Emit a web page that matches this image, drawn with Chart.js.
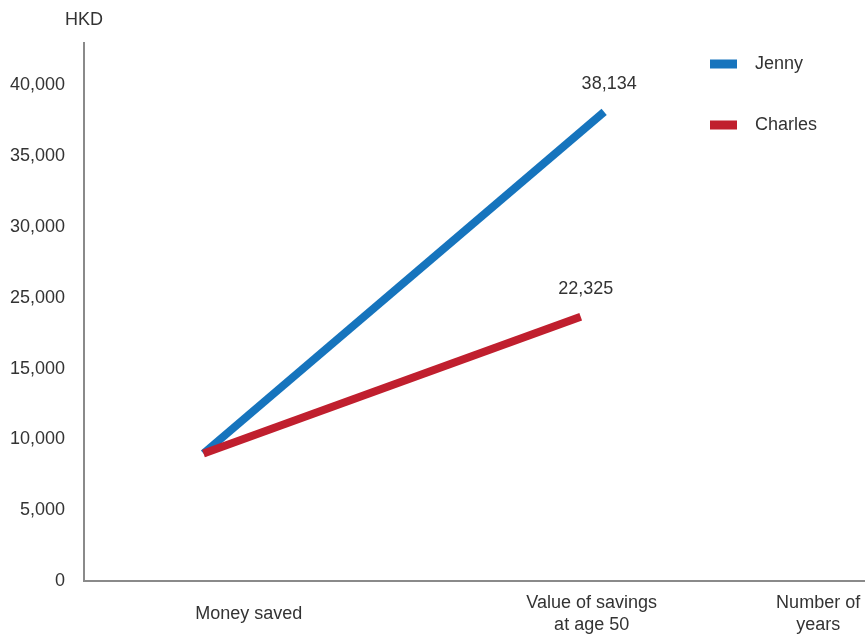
<!DOCTYPE html>
<html>
<head>
<meta charset="utf-8">
<title>Savings comparison</title>
<script src="https://cdn.jsdelivr.net/npm/chart.js@4/dist/chart.umd.min.js"></script>
<style>
  html, body { margin: 0; padding: 0; background: #ffffff; }
  #wrap { position: relative; width: 865px; height: 635px; }
  canvas { display: block; }
</style>
</head>
<body>
<div id="wrap"><canvas id="chart" width="865" height="635"></canvas></div>
<script>
// ---- data ----
const seriesNames = ['Jenny', 'Charles'];
const seriesColors = ['#1674bd', '#c01f2e'];

// horizontal progress (0 = axis origin, 100 = right end of the axis)
const jennyX = [15.3, 66.6];
const charlesX = [15.3, 63.6];
const jennyValues = [9000, 38134];
const charlesValues = [9000, 22325];

// x axis category labels and where they sit along the axis
const xLabels = ['Money saved', ['Value of savings', 'at age 50'], ['Number of', 'years']];
const xLabelAt = [21.1, 65.0, 94.0];

// y axis ticks as printed (evenly spaced, 20,000 is not printed)
const yTickValues = [0, 5000, 10000, 15000, 25000, 30000, 35000, 40000];
const yTickLabels = ['0', '5,000', '10,000', '15,000', '25,000', '30,000', '35,000', '40,000'];
const yAxisTop = 43000;
const yUnit = 'HKD';

// ---- value <-> tick position along the stepped axis ----
function valueToIndex(v) {
  const t = yTickValues;
  const n = t.length;
  if (v <= t[0]) return (v - t[0]) / (t[1] - t[0]);
  for (let i = 0; i < n - 1; i++) {
    if (v <= t[i + 1]) return i + (v - t[i]) / (t[i + 1] - t[i]);
  }
  return (n - 1) + (v - t[n - 1]) / (t[n - 1] - t[n - 2]);
}
function indexToValue(x) {
  const t = yTickValues;
  const n = t.length;
  if (x <= 0) return t[0] + x * (t[1] - t[0]);
  if (x >= n - 1) return t[n - 1] + (x - (n - 1)) * (t[n - 1] - t[n - 2]);
  const i = Math.floor(x);
  return t[i] + (x - i) * (t[i + 1] - t[i]);
}

// Linear scale whose printed ticks are evenly spaced but step by uneven amounts
class SteppedLinearScale extends Chart.LinearScale {
  determineDataLimits() {
    this.min = 0;
    this.max = valueToIndex(this.options.max);
  }
  buildTicks() {
    return yTickValues.map(v => ({ value: v }));
  }
  getPixelForValue(value) {
    if (value === null || value === undefined) return NaN;
    return super.getPixelForValue(valueToIndex(value));
  }
  getValueForPixel(pixel) {
    return indexToValue(super.getValueForPixel(pixel));
  }
}
SteppedLinearScale.id = 'steppedLinear';
SteppedLinearScale.defaults = {};
Chart.register(SteppedLinearScale);

const textColor = '#333333';
const fontSize = 18;
const fontFamily = "'Liberation Sans', Arial, Helvetica, sans-serif";
Chart.defaults.font.family = fontFamily;
Chart.defaults.font.size = fontSize;
Chart.defaults.color = textColor;

function toPoints(xs, ys) {
  return xs.map((x, i) => ({ x: x, y: ys[i] }));
}

// unit caption above the y axis, end-value labels and the legend
const annotations = {
  id: 'annotations',
  afterDatasetsDraw(chart) {
    const ctx = chart.ctx;
    const area = chart.chartArea;
    ctx.save();
    ctx.font = fontSize + 'px ' + fontFamily;
    ctx.fillStyle = textColor;
    ctx.textBaseline = 'middle';

    // unit
    ctx.textAlign = 'center';
    ctx.fillText(yUnit, area.left, 20);

    // value at the end of each line
    chart.data.datasets.forEach((ds, i) => {
      const meta = chart.getDatasetMeta(i);
      const last = meta.data[meta.data.length - 1];
      const v = ds.data[ds.data.length - 1].y;
      ctx.fillText(v.toLocaleString('en-US'), last.x + 5, last.y - 28);
    });

    // legend
    const legendRows = [64, 125];
    ctx.textAlign = 'left';
    seriesNames.forEach((name, i) => {
      const cy = legendRows[i];
      ctx.fillStyle = seriesColors[i];
      ctx.fillRect(710, cy - 4.5, 27, 9);
      ctx.fillStyle = textColor;
      ctx.fillText(name, 755, cy);
    });
    ctx.restore();
  }
};

new Chart(document.getElementById('chart'), {
  type: 'line',
  data: {
    datasets: [
      {
        label: seriesNames[0],
        data: toPoints(jennyX, jennyValues),
        borderColor: seriesColors[0],
        backgroundColor: seriesColors[0],
        borderWidth: 8,
        borderCapStyle: 'butt',
        pointRadius: 0,
        tension: 0,
        order: 1
      },
      {
        label: seriesNames[1],
        data: toPoints(charlesX, charlesValues),
        borderColor: seriesColors[1],
        backgroundColor: seriesColors[1],
        borderWidth: 8,
        borderCapStyle: 'butt',
        pointRadius: 0,
        tension: 0,
        order: 0
      }
    ]
  },
  options: {
    responsive: false,
    animation: false,
    maintainAspectRatio: false,
    layout: { padding: { top: 43, right: 0, left: 0, bottom: 0 } },
    plugins: {
      legend: { display: false },
      tooltip: { enabled: false }
    },
    scales: {
      x: {
        type: 'linear',
        min: 0,
        max: 100,
        grid: { display: false, drawTicks: false },
        border: { display: true, color: '#8a8a8a', width: 2 },
        afterBuildTicks(scale) {
          scale.ticks = xLabelAt.map(v => ({ value: v }));
        },
        afterFit(scale) {
          scale.height = 54;
          scale.paddingLeft = 0;
          scale.paddingRight = 0;
        },
        ticks: {
          autoSkip: false,
          maxRotation: 0,
          minRotation: 0,
          padding: 22,
          crossAlign: 'center',
          color: textColor,
          font: { size: fontSize, lineHeight: 1.22 },
          callback: (value, index) => xLabels[index]
        }
      },
      y: {
        type: 'steppedLinear',
        min: 0,
        max: yAxisTop,
        grid: { display: false, drawTicks: false },
        border: { display: true, color: '#8a8a8a', width: 2 },
        afterFit(scale) {
          scale.width = 84;
          scale.paddingTop = 0;
          scale.paddingBottom = 0;
        },
        ticks: {
          autoSkip: false,
          padding: 19,
          color: textColor,
          font: { size: fontSize },
          callback: (value, index) => yTickLabels[index]
        }
      }
    }
  },
  plugins: [annotations]
});
</script>
</body>
</html>
